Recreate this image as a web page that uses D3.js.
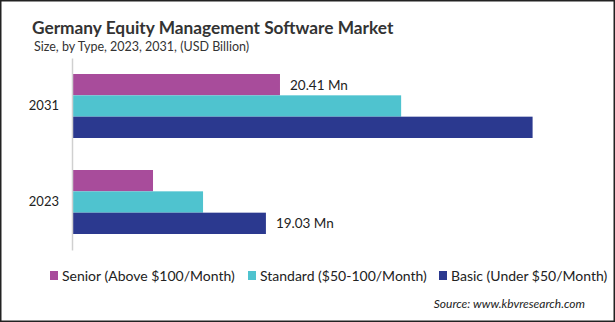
<!DOCTYPE html>
<html>
<head>
<meta charset="utf-8">
<script src="https://cdn.jsdelivr.net/npm/d3@7"></script>
<style>
  body { margin: 0; background: #fff; }
  text { font-family: Lato, "Open Sans", sans-serif; fill: #222; }
</style>
</head>
<body>
<script>
// Les données du graphique
var years = ["2031", "2023"];
var segments = ["Senior (Above $100/Month)", "Standard ($50-100/Month)", "Basic (Under $50/Month)"];
var senior = [20.41, 7.95];
var standard = [32.3, 12.86];
var basic = [45.2, 19.03];
var couleurs = ["#a84c9b", "#4fc3cf", "#2b398f"];
// étiquettes affichées : [année, segment, valeur]
var etiquettes = [["2031", 0, 20.41], ["2023", 2, 19.03]];

var W = 615, H = 322;

var svg = d3.select("body").append("svg")
            .attr("width", W)
            .attr("height", H);

// cadre
svg.append("rect")
   .attr("x", 0.75).attr("y", 0.75)
   .attr("width", W - 1.5).attr("height", H - 1.5)
   .attr("fill", "#fff")
   .attr("stroke", "#222")
   .attr("stroke-width", 1.5);

// titres
svg.append("text")
   .attr("x", 32).attr("y", 34)
   .style("font-size", "17.3px")
   .style("font-weight", "bold")
   .style("fill", "#333")
   .text("Germany Equity Management Software Market");

svg.append("text")
   .attr("x", 34).attr("y", 51)
   .style("font-size", "12.5px")
   .style("fill", "#333")
   .text("Size, by Type,  2023, 2031, (USD Billion)");

// échelles
var y = d3.scaleBand()
          .domain(years)
          .range([58, 250])
          .paddingInner(1 / 3)
          .paddingOuter(1 / 6);

var ySeg = d3.scaleBand()
             .domain(d3.range(segments.length))
             .range([0, y.bandwidth()]);

var x = d3.scaleLinear()
          .domain([0, 10])
          .range([72, 173.9]);

var series = [senior, standard, basic];

// barres
years.forEach(function(an, i) {
  var g = svg.append("g")
             .attr("transform", "translate(0," + y(an) + ")");
  g.selectAll("rect")
   .data(series.map(function(s, k) { return {k: k, v: s[i]}; }))
   .join("rect")
   .attr("x", x(0))
   .attr("y", d => ySeg(d.k))
   .attr("width", d => x(d.v) - x(0))
   .attr("height", ySeg.bandwidth())
   .attr("fill", d => couleurs[d.k]);
});

// axe vertical
var axeY = d3.axisLeft(y).tickSize(0).tickPadding(13);
var groupeY = svg.append("g")
                 .attr("transform", "translate(" + x(0) + ",0)")
                 .call(axeY);
groupeY.select(".domain")
       .attr("stroke", "#d0d0d0")
       .attr("stroke-width", 1.5);
groupeY.selectAll("text")
       .style("font-size", "13px")
       .style("font-family", "Lato, sans-serif")
       .style("fill", "#222");

// valeurs
svg.selectAll(".valeur")
   .data(etiquettes)
   .join("text")
   .attr("class", "valeur")
   .attr("x", d => x(d[2]) + 10)
   .attr("y", d => y(d[0]) + ySeg(d[1]) + ySeg.bandwidth() / 2 + 5)
   .style("font-size", "13.5px")
   .text(d => d[2].toFixed(2) + " Mn");

// légende
var legX = [50, 248, 439];
var leg = svg.selectAll(".leg")
             .data(segments)
             .join("g")
             .attr("class", "leg")
             .attr("transform", (d, i) => "translate(" + legX[i] + ",271)");
leg.append("rect")
   .attr("width", 8).attr("height", 9)
   .attr("fill", (d, i) => couleurs[i]);
leg.append("text")
   .attr("x", 12).attr("y", 10)
   .style("font-size", "14px")
   .text(d => d);

svg.append("text")
   .attr("x", 585).attr("y", 308)
   .attr("text-anchor", "end")
   .style("font-size", "12px")
   .style("font-style", "italic")
   .text("Source: www.kbvresearch.com");
</script>
</body>
</html>
